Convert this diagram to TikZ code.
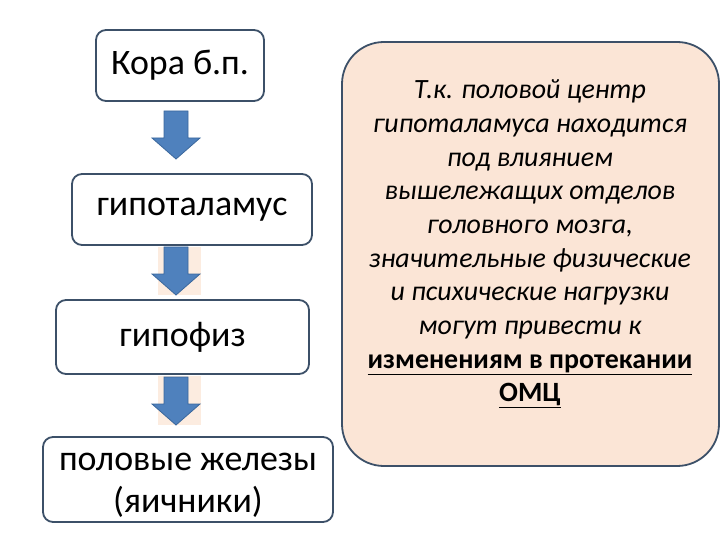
\documentclass[tikz,border=0pt]{standalone}
\usepackage{fontspec}
\setmainfont{Carlito}
\definecolor{boxline}{RGB}{60,80,104}
\definecolor{arrowfill}{RGB}{79,129,189}
\definecolor{arrowline}{RGB}{58,103,156}
\definecolor{peach}{RGB}{251,229,214}
\definecolor{peachlight}{RGB}{252,236,224}
\tikzset{
  flowbox/.style={draw=boxline, line width=1.8bp, fill=white, rounded corners=10bp,
    align=center, inner sep=0pt, font=\fontsize{36}{42}\selectfont},
  flowtext/.style={align=center, inner sep=0pt, font=\fontsize{36}{42}\selectfont},
  notebox/.style={draw=boxline, line width=1.8bp, fill=peach, rounded corners=42bp, inner sep=0pt},
  notetext/.style={align=center, font=\fontsize{28}{33.8}\selectfont\itshape},
  blockarrow/.pic={\fill[arrowfill, draw=arrowline, line width=0.8bp]
    (-12,0) -- (12,0) -- (12,27) -- (24,27) -- (0,48) -- (-24,27) -- (-12,27) -- cycle;}
}
\begin{document}
\begin{tikzpicture}[x=1bp, y=-1bp]
\useasboundingbox (0,0) rectangle (720,540);
\node[flowbox, minimum width=168bp, minimum height=71bp] (b1) at (180,65.5) {Кора б.п.};
\node[flowbox, minimum width=240bp, minimum height=71bp] (b2) at (192,209.5) {гипоталамус};
\node[flowbox, minimum width=253bp, minimum height=74bp] (b3) at (182.5,337) {гипофиз};
\node[flowbox, minimum width=290bp, minimum height=85bp] (b4) at (188,479.5) {};
\node[flowtext] (b4t) at (188,485) {половые железы\\(яичники)};
\fill[peachlight] (158,247) rectangle (201,295);
\fill[peachlight] (158,376) rectangle (201,425);
\pic at (176,111) {blockarrow};
\pic at (176,247) {blockarrow};
\pic at (176,377) {blockarrow};
\node[notebox, minimum width=377bp, minimum height=424bp] (note) at (530.5,254) {};
\node[notetext] (notetxt) at (530,244) {Т.к. половой центр\\гипоталамуса находится\\под влиянием\\вышележащих отделов\\головного мозга,\\значительные физические\\и психические нагрузки\\могут привести к\\\upshape\bfseries\underline{изменениям в протекании}\\\upshape\bfseries\underline{ОМЦ}};
\end{tikzpicture}
\end{document}
